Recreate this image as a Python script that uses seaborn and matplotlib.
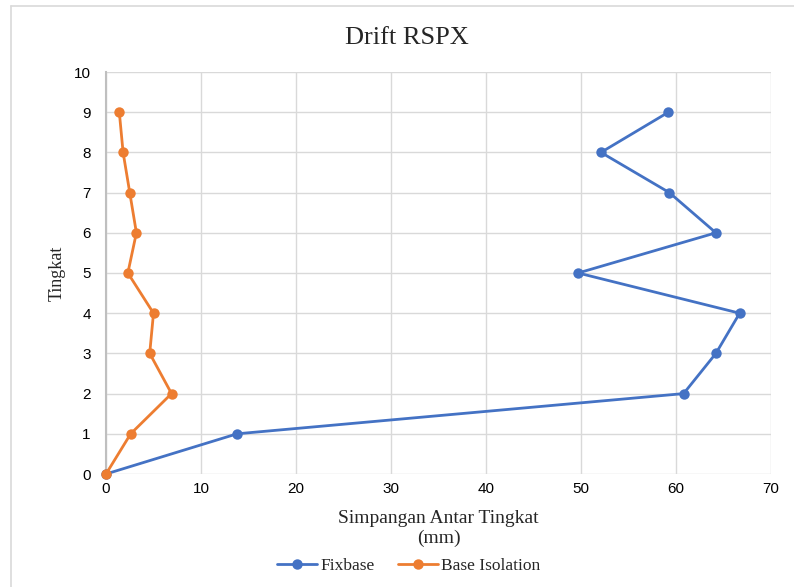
import matplotlib
matplotlib.use("Agg")
import matplotlib.pyplot as plt
from matplotlib.lines import Line2D
import seaborn as sns
import pandas as pd

# Storey levels and inter-storey drift (mm) for both structural systems
tingkat = [0, 1, 2, 3, 4, 5, 6, 7, 8, 9]
fixbase = [0, 13.8, 60.8, 64.2, 66.7, 49.7, 64.2, 59.3, 52.1, 59.2]
base_isolation = [0, 2.6, 6.9, 4.6, 5.0, 2.3, 3.2, 2.5, 1.8, 1.4]
x_ticks = [0, 10, 20, 30, 40, 50, 60, 70]
y_ticks = [0, 1, 2, 3, 4, 5, 6, 7, 8, 9, 10]

series_names = ["Fixbase", "Base Isolation"]
colors = {"Fixbase": "#4472C4", "Base Isolation": "#ED7D31"}

df = pd.concat([
    pd.DataFrame({"drift": fixbase, "tingkat": tingkat, "seri": "Fixbase"}),
    pd.DataFrame({"drift": base_isolation, "tingkat": tingkat, "seri": "Base Isolation"}),
])

sns.set_theme(style="white")
serif = ["Liberation Serif", "DejaVu Serif"]
sans = ["Liberation Sans", "DejaVu Sans"]

fig = plt.figure(figsize=(7.94, 5.87), dpi=100)
ax = fig.add_axes([106 / 794, 113 / 587, 665 / 794, 402 / 587])

for name in series_names:
    sub = df[df["seri"] == name]
    sns.lineplot(data=sub, x="drift", y="tingkat", sort=False, estimator=None,
                 color=colors[name], linewidth=2, marker="o", markersize=7.5,
                 markeredgewidth=0, ax=ax, legend=False, zorder=3)

ax.set_xlim(0, 70)
ax.set_ylim(0, 10)
ax.set_xticks(x_ticks)
ax.set_yticks(y_ticks)
ax.tick_params(axis="both", labelsize=11, length=0, colors="#000000")
ax.tick_params(axis="y", pad=11)
ax.tick_params(axis="x", pad=6)
for lbl in ax.get_xticklabels() + ax.get_yticklabels():
    lbl.set_fontfamily(sans)
ax.grid(True, color="#D9D9D9", linewidth=1)
for side in ["top", "right", "bottom"]:
    ax.spines[side].set_visible(False)
ax.spines["left"].set_color("#BFBFBF")
ax.spines["left"].set_linewidth(1.5)
for ln in ax.lines:
    ln.set_clip_on(False)

ax.set_xlabel("Simpangan Antar Tingkat\n(mm)", fontsize=14, family=serif,
              color="#262626", labelpad=10, linespacing=1.2)
ax.set_ylabel("Tingkat", fontsize=13, family=serif, color="#262626", labelpad=6)

fig.text(0.513, 0.935, "Drift RSPX", ha="center", va="center", fontsize=19,
         family=serif, color="#262626")

handles = [Line2D([0], [0], color=colors[n], linewidth=2, marker="o", markersize=7.5,
                  markeredgewidth=0) for n in series_names]
fig.legend(handles, series_names, loc="center", bbox_to_anchor=(0.515, 0.036),
           ncol=2, frameon=False, prop={"family": serif, "size": 12.5},
           handlelength=2.3, columnspacing=1.3, handletextpad=0.2)

# light frame along the top and left edges of the chart area
fig.add_artist(Line2D([11 / 794, 11 / 794], [0, 1 - 5.5 / 587],
                      transform=fig.transFigure, color="#D9D9D9", linewidth=1.2))
fig.add_artist(Line2D([11 / 794, 1], [1 - 5.5 / 587, 1 - 5.5 / 587],
                      transform=fig.transFigure, color="#D9D9D9", linewidth=1.2))

fig.savefig("out.png", dpi=100)
